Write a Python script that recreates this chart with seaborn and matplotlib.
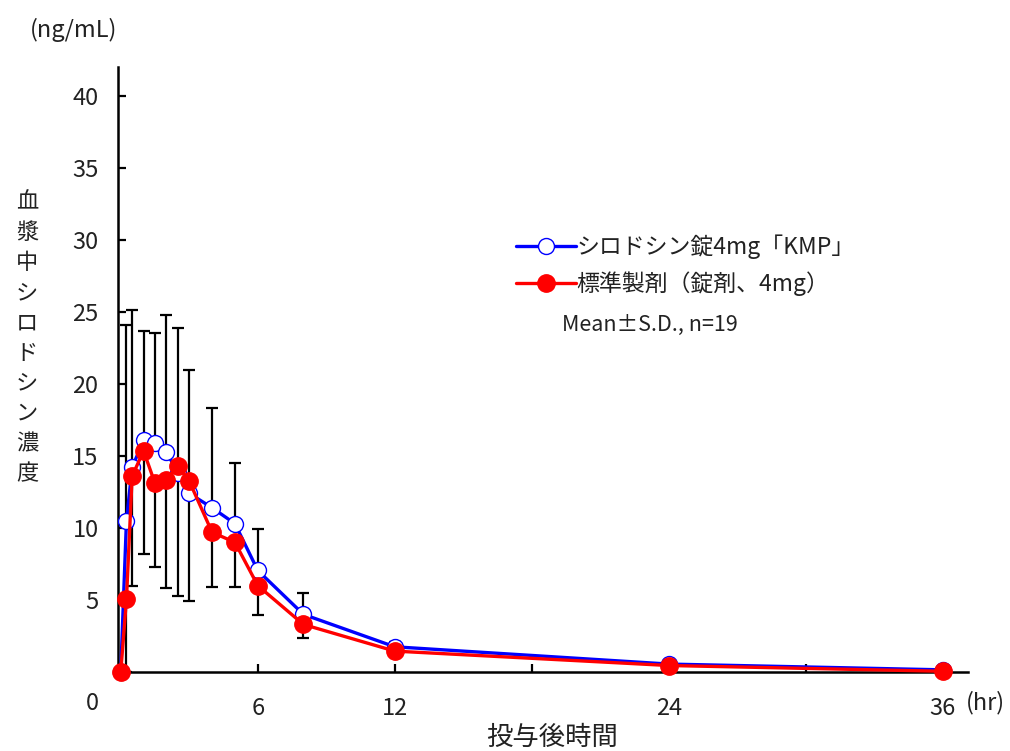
import matplotlib
matplotlib.use('Agg')
import matplotlib.pyplot as plt
import seaborn as sns
import pandas as pd

# ---- data ----
time_h = [0, 0.25, 0.5, 1, 1.5, 2, 2.5, 3, 4, 5, 6, 8, 12, 24, 36]
test_mean = [0, 10.5, 14.2, 16.1, 15.9, 15.3, 13.8, 12.4, 11.4, 10.3, 7.05, 4.0, 1.75, 0.55, 0.15]
test_sd = [0, 13.6, 10.9, 7.6, 7.6, 9.5, 10.1, 8.6, 6.9, 4.2, 2.85, 1.5, 0.35, 0.3, 0.1]
ref_mean = [0, 5.05, 13.6, 15.35, 13.1, 13.3, 14.3, 13.25, 9.7, 9.0, 6.0, 3.3, 1.45, 0.45, 0.05]
ref_sd = [0, 5.05, 7.65, 7.15, 5.8, 7.5, 9.0, 8.35, 3.8, 3.1, 2.05, 0.95, 0.35, 0.25, 0.05]

test_label = 'シロドシン錠4mg「KMP」'
ref_label = '標準製剤（錠剤、4mg）'
stat_note = 'Mean±S.D., n=19'
y_label = '血漿中シロドシン濃度'
y_unit = '(ng/mL)'
x_label = '投与後時間'
x_ticks = [6, 12, 18, 24, 30, 36]
x_ticklabels = ['6', '12', '', '24', '', '36']
y_ticks = [5, 10, 15, 20, 25, 30, 35, 40]

sns.set_theme(style='white')
FAM = ['Noto Sans CJK JP', 'DejaVu Sans']
plt.rcParams['font.family'] = FAM
plt.rcParams['axes.unicode_minus'] = False

df = pd.DataFrame({'time': time_h, 'test': test_mean, 'ref': ref_mean})

fig = plt.figure(figsize=(10.10, 7.51), dpi=100)
ax = fig.add_axes([118/1010, 1-672/751, (968-118)/1010, (672-67)/751])

# error bars: test upward, reference downward
ax.errorbar(time_h, test_mean, yerr=[[0]*len(test_sd), test_sd], fmt='none',
            ecolor='black', elinewidth=1.6, capsize=4.5, capthick=1.6, zorder=1)
ax.errorbar(time_h, ref_mean, yerr=[ref_sd, [0]*len(ref_sd)], fmt='none',
            ecolor='black', elinewidth=1.6, capsize=4.5, capthick=1.6, zorder=1)

sns.lineplot(data=df, x='time', y='test', ax=ax, color='#0000ff', linewidth=2.4,
             marker='o', markersize=11.5, markerfacecolor='white',
             markeredgecolor='#0000ff', markeredgewidth=1.0, label=test_label,
             zorder=3, clip_on=False)
sns.lineplot(data=df, x='time', y='ref', ax=ax, color='#ff0000', linewidth=2.4,
             marker='o', markersize=12.5, markerfacecolor='#ff0000',
             markeredgecolor='#ff0000', markeredgewidth=1.0, label=ref_label,
             zorder=4, clip_on=False)

ax.set_xlim(-0.12, 37.1)
ax.set_ylim(0, 42.0)
ax.set_xticks(x_ticks)
ax.set_xticklabels(x_ticklabels)
ax.set_yticks(y_ticks)
ax.set_yticklabels([str(v) for v in y_ticks])
ax.set_xlabel('')
ax.set_ylabel('')

for s in ['top', 'right']:
    ax.spines[s].set_visible(False)
for s in ['left', 'bottom']:
    ax.spines[s].set_color('black')
    ax.spines[s].set_linewidth(1.8)

ax.tick_params(axis='both', direction='in', length=6, width=1.6, color='black',
               labelsize=17, labelcolor='#222222')
ax.tick_params(axis='x', pad=18)
ax.tick_params(axis='y', pad=14)
ax.tick_params(left=True, bottom=True)

# "0" origin label and unit labels
ax.annotate('0', xy=(-1.25, 0), xycoords=('data', 'axes fraction'),
            xytext=(0, -31), textcoords='offset pixels', ha='center', va='center',
            fontsize=17, color='#222222')
ax.annotate('(hr)', xy=(37.85, 0), xycoords=('data', 'axes fraction'),
            xytext=(0, -31), textcoords='offset pixels', ha='center', va='center',
            fontsize=17, color='#222222')
fig.text(74/1010, 1-30/751, y_unit, ha='center', va='center', fontsize=17,
         color='#222222')
fig.text(552/1010, 1-737/751, x_label, ha='center', va='center', fontsize=19,
         color='#222222')
fig.text(27/1010, 1-338/751, '\n'.join(y_label), ha='center', va='center',
         fontsize=16, color='#222222', linespacing=1.40)

leg = ax.legend(loc='upper left', bbox_to_anchor=(516/1010, 1-234/751),
                bbox_transform=fig.transFigure, frameon=False, fontsize=16.5,
                handlelength=2.6, handletextpad=0.05, labelspacing=0.55,
                borderpad=0, borderaxespad=0)
for t in leg.get_texts():
    t.set_color('#222222')
fig.text(650/1010, 1-325/751, stat_note, ha='center', va='center', fontsize=15.5,
         color='#222222')

fig.savefig('out.png', dpi=100)
